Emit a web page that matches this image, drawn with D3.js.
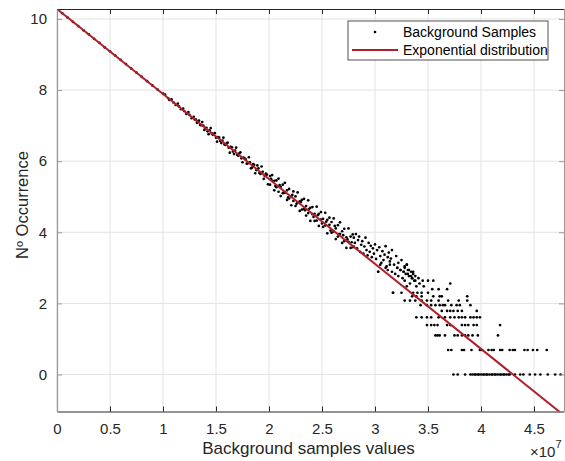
<!DOCTYPE html>
<html><head><meta charset="utf-8">
<script src="https://cdn.jsdelivr.net/npm/d3@7"></script>
<style>html,body{margin:0;padding:0;background:#fff;}svg{display:block;font-family:"Liberation Sans",Arial,Helvetica,sans-serif;}</style>
</head><body>
<svg id="c" width="565" height="461"></svg>
<script>
// x values are in units of 10^7 (axis shows ×10^7)
const xTicks = [0, 0.5, 1, 1.5, 2, 2.5, 3, 3.5, 4, 4.5];
const xTickLabels = ["0", "0.5", "1", "1.5", "2", "2.5", "3", "3.5", "4", "4.5"];
const yTicks = [0, 2, 4, 6, 8, 10];
const yTickLabels = ["0", "2", "4", "6", "8", "10"];

// Exponential distribution fit (straight line in log space)
const fitX = [0, 4.783];
const fitY = [10.28, -1.15];

// Background samples: near-line part
const contX = [
 0.00,0.05,0.10,0.15,0.20,0.25,0.30,0.35,0.40,0.45,0.50,0.55,0.60,0.65,0.70,0.75,0.80,0.85,0.90,0.95,1.00,1.05,1.10,1.15,1.20,1.25,1.30,
 1.02,1.06,1.08,1.12,1.14,1.17,1.19,1.22,1.24,1.27,1.29,
 1.33,1.35,1.38,1.40,1.42,1.44,1.46,1.48,1.50,1.52,1.54,1.56,1.58,1.60,1.62,1.64,1.66,1.68,1.70,1.72,1.74,1.76,1.78,1.80,1.82,1.84,1.86,1.88,1.90,1.92,1.94,1.96,1.98,
 1.31,1.32,1.34,1.36,1.37,1.39,1.41,1.43,1.45,1.47,1.49,1.51,1.53,1.55,1.57,1.59,1.61,1.63,1.65,1.67,1.69,1.71,1.73,1.75,1.77,1.79,1.81,1.83,1.85,1.87,1.89,1.91,1.93,1.95,1.97,1.99,
 2.01,2.01,2.03,2.03,2.05,2.05,2.07,2.07,2.09,2.09,2.11,2.11,2.13,2.13,2.15,2.15,2.17,2.17,2.19,2.19,
 2.21,2.21,2.23,2.23,2.25,2.25,2.27,2.27,2.29,2.29,2.31,2.31,2.33,2.33,2.35,2.35,2.37,2.37,2.39,2.39,
 2.41,2.41,2.43,2.43,2.45,2.45,2.47,2.47,2.49,2.49,2.51,2.51,2.53,2.53,2.55,2.55,2.57,2.57,2.59,2.59,
 2.61,2.61,2.63,2.63,2.65,2.65,2.67,2.67,2.69,2.69,2.71,2.71,2.73,2.73,2.75,2.75,2.77,2.77,2.79,2.79,
 2.02,2.06,2.10,2.14,2.18,2.22,2.26,2.30,2.34,2.38,2.42,2.46,2.50,2.54,2.58,2.62,2.66,2.70,2.74,2.78,
 2.80,2.80,2.81,2.82,2.83,2.84,2.85,2.86,2.87,2.88,2.89,2.90,2.91,2.92,2.93,2.94,2.95,2.96,2.97,2.98,2.99,3.00,3.01,3.02,
 3.03,3.04,3.05,3.06,3.07,3.08,3.09,3.10,3.11,3.12,3.13,3.14,3.15,3.17,3.16,3.18,3.20,3.21,3.22,3.24,3.25,3.27,3.28,3.30,3.31,3.32,3.34,3.35,3.36,3.38
];
const contY = [
 10.28,10.16,10.04,9.92,9.80,9.68,9.57,9.44,9.33,9.20,9.09,8.97,8.85,8.73,8.61,8.49,8.37,8.25,8.13,8.01,7.90,7.77,7.65,7.54,7.41,7.30,7.17,
 7.87,7.72,7.74,7.58,7.62,7.46,7.48,7.33,7.38,7.21,7.25,
 7.12,7.02,7.00,6.93,6.84,6.87,6.78,6.77,6.66,6.68,6.57,6.58,6.47,6.50,6.38,6.40,6.27,6.30,6.18,6.22,6.08,6.10,6.05,5.94,5.97,5.82,5.90,5.75,5.80,5.64,5.70,5.58,5.62,
 7.17,7.08,7.14,7.01,7.10,6.88,6.94,6.76,6.93,6.74,6.79,6.55,6.66,6.51,6.66,6.46,6.52,6.24,6.39,6.20,6.38,6.15,6.25,5.97,6.08,5.93,6.11,5.80,5.92,5.66,5.88,5.67,5.85,5.50,5.65,5.35,
 5.58,5.34,5.45,5.61,5.18,5.45,5.46,5.27,5.14,5.51,5.28,5.02,5.34,5.10,5.11,5.39,5.18,4.91,4.95,5.22,
 5.01,4.76,5.15,4.88,4.74,5.01,5.12,4.84,4.60,4.87,4.91,4.64,4.66,4.94,4.74,4.47,4.54,4.90,4.69,4.32,
 4.51,4.71,4.52,4.32,4.72,4.33,4.18,4.52,4.36,4.57,4.15,4.38,4.55,4.19,3.97,4.35,4.21,4.41,3.99,4.29,
 4.39,4.02,3.81,4.11,4.20,3.88,3.95,4.28,3.70,4.03,4.10,3.75,3.86,3.56,4.11,3.73,3.56,3.88,3.94,3.58,
 5.50,5.30,5.33,5.12,4.98,5.05,4.80,4.85,4.62,4.66,4.43,4.48,4.25,4.30,4.05,4.18,3.95,3.92,3.80,3.72,
 3.85,3.60,3.70,3.95,3.55,3.78,3.88,3.45,3.65,3.75,3.40,3.60,3.85,3.50,3.35,3.70,3.45,3.62,3.30,3.55,3.40,3.66,3.25,3.50,
 2.89,3.58,3.33,3.14,3.47,3.22,3.37,3.61,3.04,3.30,3.43,3.18,3.26,2.30,3.50,3.09,3.33,3.00,3.14,2.94,3.22,2.89,3.04,3.09,2.83,2.94,2.77,2.71,2.89,2.64
];

// Background samples: discrete count levels (log of counts) in the tail
const rowY = [0, 0.69, 1.10, 1.39, 1.61, 1.79, 1.95, 2.08, 2.20, 2.30, 2.40, 2.48, 2.56, 2.64, 2.71, 2.77, 2.83, 2.89, 2.94, 3.00, 3.09];
const rowX = [
 [3.74,3.78,3.85,3.90,3.92,3.94,3.95,3.97,3.98,4.00,4.02,4.03,4.05,4.06,4.08,4.10,4.11,4.13,4.14,4.16,4.18,4.19,4.21,4.22,4.24,4.26,4.27,4.32,4.37,4.40,4.46,4.51,4.56,4.63,4.70,4.75],
 [3.69,3.72,3.82,3.84,3.91,3.99,4.01,4.07,4.10,4.12,4.18,4.20,4.27,4.30,4.32,4.41,4.44,4.49,4.53,4.62],
 [3.57,3.59,3.61,3.66,3.75,3.78,3.82,3.85,3.88,3.92,3.97,4.16],
 [3.49,3.53,3.56,3.59,3.68,3.71,3.82,3.85,3.88,3.93,3.96,4.18],
 [3.39,3.44,3.49,3.53,3.60,3.66,3.71,3.75,3.79,3.82,3.85,3.90,3.93,3.96,3.99],
 [3.63,3.68,3.71,3.74,3.78,3.82,3.96],
 [3.43,3.49,3.53,3.57,3.61,3.64,3.66,3.72,3.77,3.80,3.90],
 [3.28,3.33,3.38,3.44,3.49,3.53,3.60,3.69,3.79,3.87],
 [3.35,3.39,3.44,3.55,3.61,3.63,3.87],
 [3.17,3.25,3.36,3.40,3.44,3.50],
 [3.54,3.60,3.68],
 [3.30,3.39,3.46],
 [3.33,3.42,3.71],
 [3.28,3.37,3.45,3.50,3.55],
 [3.26,3.35,3.41],
 [3.22,3.32,3.38],
 [3.19,3.29,3.36],
 [3.03,3.16,3.27,3.34],
 [3.12,3.24,3.31],
 [3.10,3.21,3.28],
 [3.05,3.14,3.30]
];

const seriesNames = ["Background Samples", "Exponential distribution"];

const L = 57, R = 564, T = 9, B = 411.5;
const svg = d3.select("#c");
const x = d3.scaleLinear().domain([0, 4.783]).range([L, R]);
const y = d3.scaleLinear().domain([-1.04, 10.28]).range([B, T]);

// grid
const g = svg.append("g");
g.selectAll("line.gx").data(xTicks).join("line")
  .attr("x1", d => x(d)).attr("x2", d => x(d)).attr("y1", T).attr("y2", B)
  .attr("stroke", "#e3e3e3").attr("stroke-width", 1);
g.selectAll("line.gy").data(yTicks).join("line")
  .attr("x1", L).attr("x2", R).attr("y1", d => y(d)).attr("y2", d => y(d))
  .attr("stroke", "#e3e3e3").attr("stroke-width", 1);

svg.append("clipPath").attr("id", "clip").append("rect")
  .attr("x", L).attr("y", T).attr("width", R - L).attr("height", B - T);

// points
const pts = contX.map((v, i) => [v, contY[i]]);
rowY.forEach((lv, i) => rowX[i].forEach(v => pts.push([v, lv])));
svg.append("g").attr("clip-path", "url(#clip)")
  .selectAll("circle").data(pts).join("circle")
  .attr("cx", d => x(d[0])).attr("cy", d => y(d[1])).attr("r", 1.35).attr("fill", "#000");

// fit line
svg.append("path").attr("clip-path", "url(#clip)")
  .datum(fitX.map((v, i) => [v, fitY[i]]))
  .attr("d", d3.line().x(d => x(d[0])).y(d => y(d[1])))
  .attr("fill", "none").attr("stroke", "#b0202a").attr("stroke-width", 2);

// axes
const xAxisB = d3.axisBottom(x).tickValues(xTicks).tickFormat((d, i) => xTickLabels[i]).tickSizeInner(-5).tickSizeOuter(0).tickPadding(12);
const gxb = svg.append("g").attr("transform", `translate(0,${B})`).call(xAxisB);
gxb.select(".domain").attr("stroke", "#262626");
gxb.selectAll(".tick line").attr("stroke", "#262626");
gxb.selectAll("text").attr("font-size", 15).attr("fill", "#262626").attr("font-family", "Liberation Sans, Arial, sans-serif");

const xAxisT = d3.axisTop(x).tickValues(xTicks).tickFormat("").tickSizeInner(-5).tickSizeOuter(0);
const gxt = svg.append("g").attr("transform", `translate(0,${T})`).call(xAxisT);
gxt.select(".domain").attr("stroke", "#262626");
gxt.selectAll(".tick line").attr("stroke", "#262626");

const yAxisL = d3.axisLeft(y).tickValues(yTicks).tickFormat((d, i) => yTickLabels[i]).tickSizeInner(-5).tickSizeOuter(0).tickPadding(10);
const gyl = svg.append("g").attr("transform", `translate(${L},0)`).call(yAxisL);
gyl.select(".domain").attr("stroke", "#9a9a9a").attr("stroke-width", 1.3);
gyl.selectAll(".tick line").attr("stroke", "#9a9a9a");
gyl.selectAll("text").attr("font-size", 15).attr("fill", "#262626").attr("font-family", "Liberation Sans, Arial, sans-serif");

const yAxisR = d3.axisRight(y).tickValues(yTicks).tickFormat("").tickSizeInner(-5).tickSizeOuter(0);
const gyr = svg.append("g").attr("transform", `translate(${R},0)`).call(yAxisR);
gyr.select(".domain").attr("stroke", "#9a9a9a");
gyr.selectAll(".tick line").attr("stroke", "#9a9a9a");

// exponent label
const ex = svg.append("text").attr("x", 530).attr("y", 457).attr("font-size", 15).attr("fill", "#262626");
ex.append("tspan").text("×10");
ex.append("tspan").attr("dy", -9).attr("font-size", 11).text("7");

// axis labels
svg.append("text").attr("x", (L + R) / 2 - 2).attr("y", 454).attr("text-anchor", "middle")
  .attr("font-size", 17).attr("fill", "#262626").text("Background samples values");
svg.append("text").attr("transform", "translate(28,205) rotate(-90)").attr("text-anchor", "middle")
  .attr("font-size", 16.5).attr("fill", "#262626").text("Nº Occurrence");

// legend
const lg = svg.append("g");
lg.append("rect").attr("x", 348).attr("y", 21).attr("width", 200).attr("height", 39)
  .attr("fill", "#fff").attr("stroke", "#262626").attr("stroke-width", 0.8);
lg.append("circle").attr("cx", 375).attr("cy", 32).attr("r", 1.35).attr("fill", "#000");
lg.append("line").attr("x1", 352).attr("x2", 398).attr("y1", 50).attr("y2", 50)
  .attr("stroke", "#b0202a").attr("stroke-width", 2);
lg.selectAll("text.lt").data(seriesNames).join("text")
  .attr("x", 403).attr("y", (d, i) => 32 + i * 18).attr("dy", "0.35em")
  .attr("font-size", 14).attr("fill", "#000").text(d => d);
</script>
</body></html>
